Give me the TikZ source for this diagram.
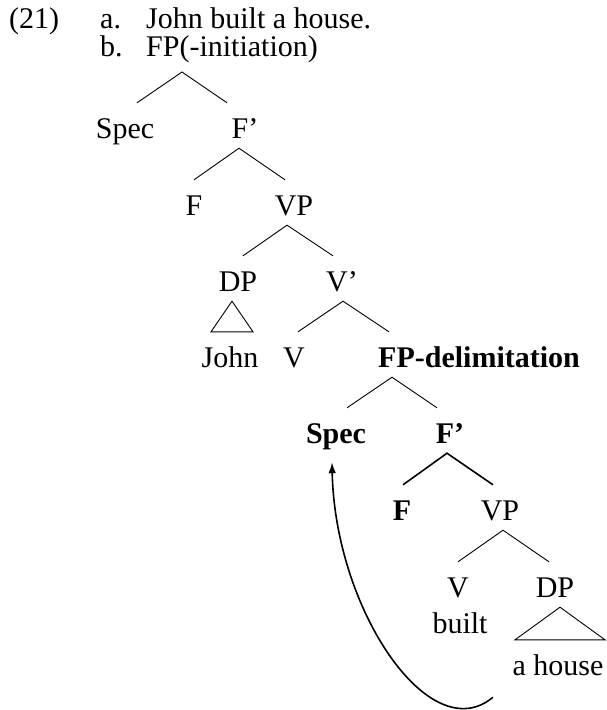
\documentclass[tikz,border=0pt]{standalone}
\usepackage{fontspec}
\setmainfont{Liberation Serif}
\usetikzlibrary{arrows.meta}
\begin{document}
\begin{tikzpicture}[x=1pt,y=-1pt,
  every node/.style={font=\fontsize{30}{36}\selectfont, inner sep=0pt},
  hdrstyle/.style={anchor=base west, font=\fontsize{30}{27}\selectfont},
  tnode/.style={anchor=base, text height=35pt, text depth=10pt},
  tnodew/.style={anchor=base west, text height=35pt, text depth=10pt},
  bnode/.style={tnode, font=\fontsize{30}{36}\selectfont\bfseries},
  bnodew/.style={tnodew, font=\fontsize{30}{36}\selectfont\bfseries},
  branch/.style={draw=black, line width=0.9pt},
  thickbranch/.style={draw=black, line width=1.6pt},
  movearrow/.style={draw=black, line width=1.6pt, -{Latex[length=11pt,width=7.5pt]}}]
\fill[white] (0,0) rectangle (606,710);
\useasboundingbox (0,0) rectangle (606,710);
% header: example number, sentence and tree root
\node[hdrstyle] (hdr) at (9,28) {\begin{tabular}[t]{@{}p{91pt}@{}p{46pt}@{}l@{}}(21) & a. & John built a house.\\ & b. & FP(-initiation)\end{tabular}};
\coordinate (fpi) at ([xshift=173pt,yshift=-44pt]hdr.base west);
% tree nodes
\node[tnode] (spec1) at (125,138) {Spec};
\node[tnode] (f1bar) at (245,138) {F’};
\node[tnode] (f1) at (194,215) {F};
\node[tnode] (vp1) at (294,215) {VP};
\node[tnode] (dp1) at (238,291) {DP};
\node[tnode] (v1bar) at (342,291) {V’};
\node[tnode] (john) at (230,367) {John};
\node[tnode] (v1) at (294,367) {V};
\node[bnodew] (fpd) at (378,367) {FP-delimitation};
\node[bnode] (spec2) at (336,443) {Spec};
\node[bnode] (f2bar) at (450,443) {F’};
\node[bnode] (f2) at (402,520) {F};
\node[tnode] (vp2) at (500,520) {VP};
\node[tnode] (v2) at (458,597) {V};
\node[tnode] (dp2) at (555,597) {DP};
\node[tnode] (built) at (460,633) {built};
\node[tnode] (ahouse) at (558,675) {a house};
% branches
\draw[branch] ([xshift=12pt]spec1.north) -- (fpi) -- ([xshift=-18pt]f1bar.north);
\draw[branch] (f1.north) -- ([xshift=-6pt]f1bar.south) -- ([xshift=-9pt]vp1.north);
\draw[branch] ([xshift=5pt]dp1.north) -- ([xshift=-7pt]vp1.south) -- ([xshift=-9pt]v1bar.north);
\draw[branch] ([xshift=-6pt]dp1.south) -- ([xshift=-19pt]john.north) -- ([xshift=23pt]john.north) -- cycle;
\draw[branch] ([xshift=4pt]v1.north) -- ([xshift=1pt]v1bar.south) -- ([xshift=11pt]fpd.north west);
\draw[branch] ([xshift=11pt]spec2.north) -- ([xshift=14pt]fpd.south west) -- ([xshift=-13pt]f2bar.north);
\draw[thickbranch] ([xshift=1pt]f2.north) -- ([xshift=-3pt]f2bar.south) -- ([xshift=-7pt]vp2.north);
\draw[branch] (v2.north) -- ([xshift=3pt]vp2.south) -- ([xshift=-6pt]dp2.north);
\draw[branch] ([xshift=5pt]dp2.south) -- ([xshift=-43pt]ahouse.north) -- ([xshift=47pt]ahouse.north) -- cycle;
% movement arrow
\draw[movearrow] ([xshift=-65pt,yshift=-12pt]ahouse.south) .. controls (430,750) and (335,610) .. ([xshift=-4pt,yshift=-9pt]spec2.south);
\end{tikzpicture}
\end{document}
